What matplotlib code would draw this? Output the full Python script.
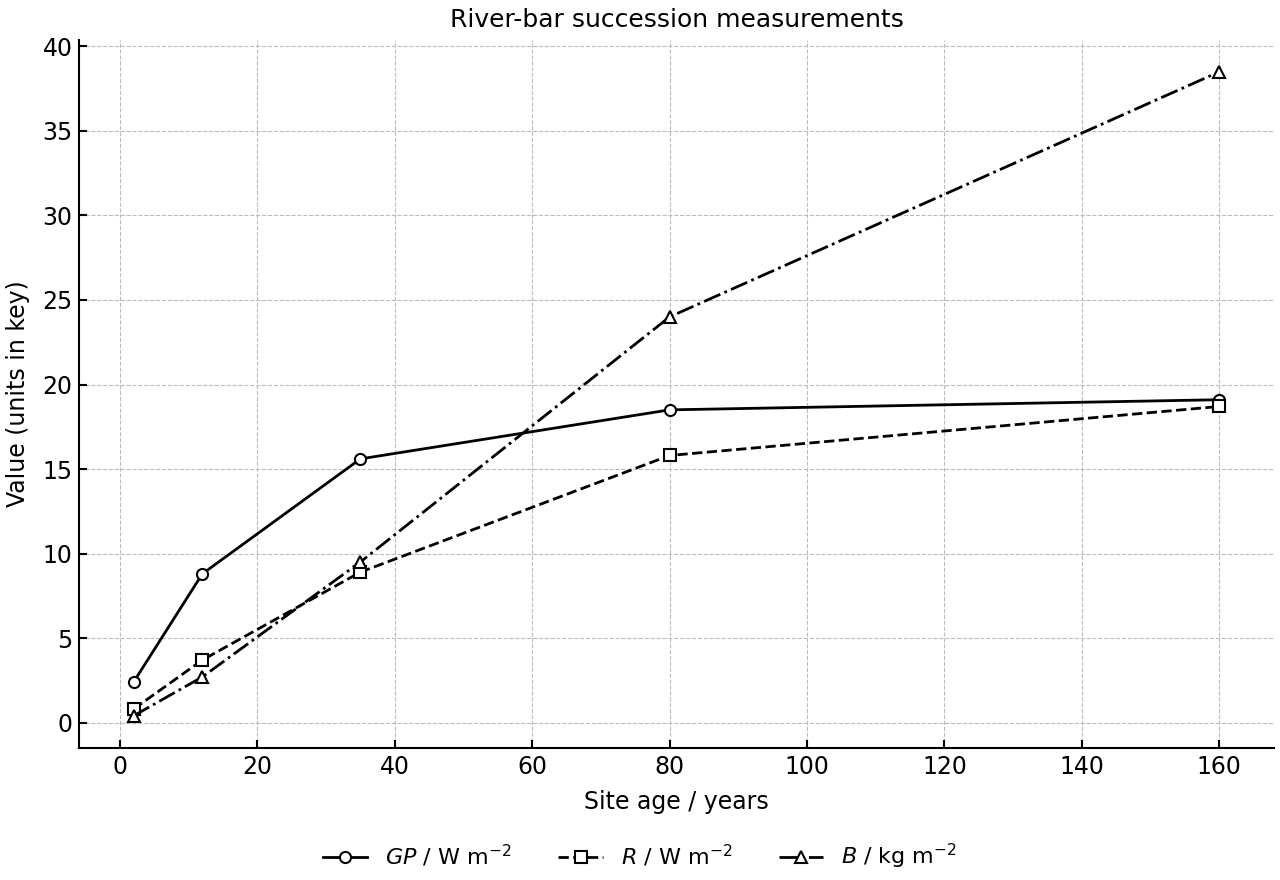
import matplotlib
matplotlib.use("Agg")
import matplotlib.pyplot as plt

age = [2, 12, 35, 80, 160]
gp = [2.4, 8.8, 15.6, 18.5, 19.1]
resp = [0.8, 3.7, 8.9, 15.8, 18.7]
biomass = [0.4, 2.7, 9.5, 24.0, 38.5]

fig, ax = plt.subplots(figsize=(12.8, 8.8), dpi=100)
kw = dict(color="black", lw=2, ms=8, mfc="white", mew=1.5)
ax.plot(age, gp, "-", marker="o", label=r"$GP$ / W m$^{-2}$", **kw)
ax.plot(age, resp, "--", marker="s", label=r"$R$ / W m$^{-2}$", **kw)
ax.plot(age, biomass, "-.", marker="^", label=r"$B$ / kg m$^{-2}$", **kw)

ax.set_title("River-bar succession measurements", fontsize=18, pad=9)
ax.set_xlabel("Site age / years", fontsize=17, labelpad=8)
ax.set_ylabel("Value (units in key)", fontsize=17, labelpad=9)
ax.tick_params(direction="in", labelsize=17, width=1.5, length=6, pad=5)
ax.spines["top"].set_visible(False)
ax.spines["right"].set_visible(False)
ax.spines["left"].set_linewidth(1.5)
ax.spines["bottom"].set_linewidth(1.5)
ax.grid(True, ls="--", color="#bbbbbb", lw=0.8)
ax.set_yticks(range(0, 41, 5))
fig.subplots_adjust(left=0.062, right=0.995, top=0.955, bottom=0.15)
fig.legend(loc="upper center", bbox_to_anchor=(0.5, 0.066), ncol=3, frameon=False,
           fontsize=16, handlelength=2, columnspacing=2.1,
           bbox_transform=fig.transFigure)
fig.savefig("out.png")
